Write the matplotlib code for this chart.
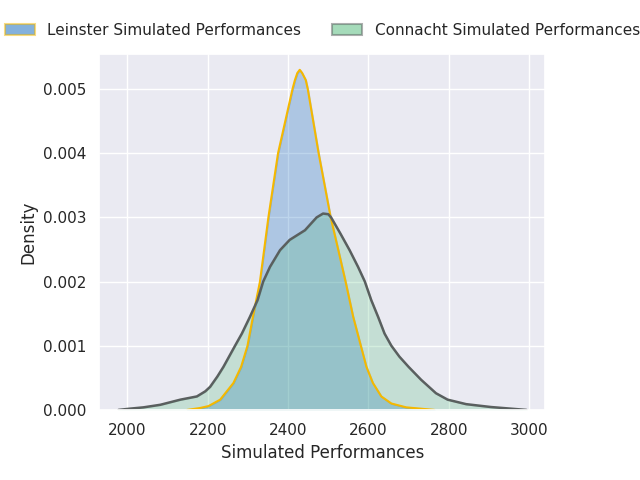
import matplotlib
matplotlib.use("Agg")
import matplotlib.pyplot as plt
import seaborn as sns
from matplotlib.patches import Patch

sns.set_theme(style="darkgrid")

# Density curves (x = simulated performance, y = density)
leinster_x = [2149, 2181, 2202, 2231, 2264, 2283, 2299, 2314, 2330, 2351, 2375, 2411,
              2417, 2423, 2429, 2435, 2444, 2449, 2476, 2506, 2525, 2543, 2562, 2581,
              2595, 2611, 2632, 2657, 2694, 2764]
leinster_y = [0.0, 0.03e-3, 0.06e-3, 0.16e-3, 0.42e-3, 0.67e-3, 1.0e-3, 1.5e-3, 2.0e-3,
              3.0e-3, 4.0e-3, 5.0e-3, 5.14e-3, 5.25e-3, 5.30e-3, 5.25e-3, 5.14e-3,
              5.0e-3, 4.0e-3, 3.0e-3, 2.49e-3, 2.0e-3, 1.45e-3, 1.0e-3, 0.67e-3,
              0.42e-3, 0.21e-3, 0.10e-3, 0.04e-3, 0.0]

connacht_x = [1978, 2007, 2040, 2082, 2132, 2173, 2194, 2206, 2224, 2239, 2268, 2285,
              2305, 2324, 2338, 2355, 2380, 2404, 2442, 2471, 2487, 2500, 2507, 2530,
              2553, 2574, 2591, 2607, 2624, 2640, 2657, 2677, 2700, 2731, 2768, 2797,
              2843, 2905, 2993]
connacht_y = [0.0, 0.02e-3, 0.04e-3, 0.08e-3, 0.16e-3, 0.21e-3, 0.29e-3, 0.36e-3,
              0.52e-3, 0.67e-3, 1.0e-3, 1.19e-3, 1.45e-3, 1.71e-3, 2.0e-3, 2.23e-3,
              2.49e-3, 2.65e-3, 2.80e-3, 3.0e-3, 3.06e-3, 3.05e-3, 3.0e-3, 2.75e-3,
              2.49e-3, 2.23e-3, 2.0e-3, 1.71e-3, 1.45e-3, 1.19e-3, 1.0e-3, 0.83e-3,
              0.67e-3, 0.47e-3, 0.26e-3, 0.16e-3, 0.09e-3, 0.045e-3, 0.0]

series_labels = ["Leinster Simulated Performances", "Connacht Simulated Performances"]
x_ticks = [2000, 2200, 2400, 2600, 2800, 3000]
y_ticks = [0.000, 0.001, 0.002, 0.003, 0.004, 0.005]

leinster_face = "#0b65bb"
leinster_edge = "#f5b800"
connacht_face = "#4db977"
connacht_edge = "#5a5f5f"

fig = plt.figure(figsize=(6.4, 4.8), dpi=100)
ax = fig.add_axes([0.155, 0.146, 0.697, 0.742])

ax.fill_between(leinster_x, leinster_y, color=leinster_face, alpha=0.27, linewidth=1.2)
ax.plot(leinster_x, leinster_y, color=leinster_edge, linewidth=1.5,
        solid_joinstyle="round")
ax.fill_between(connacht_x, connacht_y, color=connacht_face, alpha=0.24, linewidth=1.2)
ax.plot(connacht_x, connacht_y, color=connacht_edge, linewidth=1.8,
        solid_joinstyle="round")

ax.set_xticks(x_ticks)
ax.set_yticks(y_ticks)
ax.set_yticklabels([f"{v:.3f}" for v in y_ticks])
ax.set_xlim(1930, 3040)
ax.set_ylim(0, 0.00555)
ax.set_xlabel("Simulated Performances")
ax.set_ylabel("Density")

handles = [
    Patch(facecolor=leinster_face, edgecolor=leinster_edge, alpha=0.5, linewidth=1.5),
    Patch(facecolor=connacht_face, edgecolor=connacht_edge, alpha=0.5, linewidth=1.5),
]
ax.legend(handles, series_labels, loc="center", bbox_to_anchor=(0.5, 1.065),
          ncol=2, frameon=False)

fig.savefig("out.png", dpi=100)
